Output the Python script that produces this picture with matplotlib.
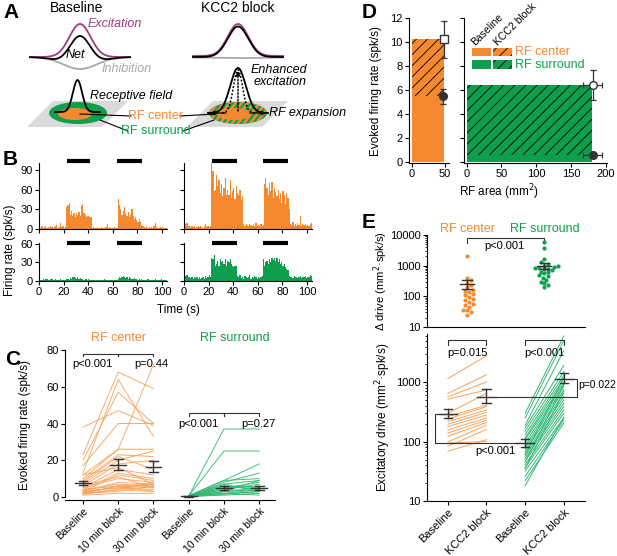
import numpy as np
import matplotlib
matplotlib.use('Agg')
import matplotlib.pyplot as plt
from matplotlib.patches import Ellipse, Polygon, Rectangle

plt.rcParams['font.family'] = ['Liberation Sans', 'DejaVu Sans']
plt.rcParams['font.size'] = 8
plt.rcParams['hatch.linewidth'] = 0.6
plt.rcParams['axes.linewidth'] = 0.8

ORANGE = '#F5892F'
GREEN = '#0E9F4E'
ORANGE_LINE = '#F7A25B'
GREEN_LINE = '#2FB872'
PURPLE = '#A33A7E'
GRAY = '#A8A8A8'
ERR = '#333333'

# ====================== DATA ======================
# B: firing rate histograms, 1 s bins (spk/s)
t_bins = np.arange(105)
center_base_hist = ([3, 2, 4, 2, 3, 5, 2, 3, 2, 4, 3, 2, 3, 4, 6, 2, 3, 9, 3, 4, 2, 3]
                    + [34, 37, 40, 22, 28, 20, 25, 18, 24, 22, 26, 20, 35, 38, 25, 22, 18, 20, 20, 19, 19]
                    + [2, 3, 2, 1, 3, 2, 2, 3, 1, 2, 2, 3, 8, 2, 3, 2, 1, 2, 3, 2, 2]
                    + [45, 36, 30, 22, 28, 33, 25, 20, 26, 18, 22, 30, 20, 15, 18, 13, 10, 16, 11, 6, 4]
                    + [3, 2, 4, 2, 3, 2, 3, 2, 5, 9, 3, 2, 2, 3, 2, 3, 2, 2, 1, 2])
center_kcc_hist = ([12, 7, 9, 5, 4, 3, 5, 3, 4, 2, 3, 5, 3, 4, 3, 2, 4, 8, 3, 4, 3, 4]
                   + [100, 88, 58, 60, 82, 65, 75, 55, 68, 50, 62, 78, 52, 60, 52, 74, 48, 58, 62, 45, 65, 55, 52, 60, 44, 50]
                   + [8, 5, 7, 6, 4, 8, 6, 5, 7, 4, 9, 5, 6, 4, 7, 5, 6]
                   + [68, 78, 62, 52, 70, 58, 72, 48, 62, 56, 50, 60, 45, 55, 40, 58, 52, 38, 55, 48, 30]
                   + [8, 6, 10, 5, 7, 4, 9, 6, 20, 5, 8, 6, 7, 4, 6, 5, 8, 9, 7])
surr_base_hist = ([1, 2, 1, 3, 2, 4, 3, 1, 2, 4, 3, 2, 1, 3, 2, 1, 2, 3, 1, 2, 1, 2]
                  + [3, 4, 2, 5, 4, 6, 7, 5, 4, 6, 3, 5, 4, 3, 2, 4, 3, 2, 3, 2, 1]
                  + [1, 2, 1, 1, 2, 1, 2, 1, 1, 2, 3, 1, 2, 1, 2, 1, 2, 1, 1, 2, 1]
                  + [4, 6, 5, 7, 8, 6, 5, 7, 4, 6, 5, 3, 4, 5, 3, 4, 2, 3, 2, 3, 2]
                  + [1, 2, 1, 3, 2, 1, 2, 1, 2, 3, 1, 2, 1, 2, 4, 1, 2, 1, 2, 1])
surr_kcc_hist = ([10, 8, 9, 7, 6, 5, 7, 4, 6, 5, 7, 4, 6, 3, 5, 7, 4, 8, 5, 6, 9, 7]
                 + [38, 35, 42, 25, 28, 32, 24, 35, 30, 33, 28, 35, 25, 32, 30, 35, 28, 25, 22, 25, 24]
                 + [8, 6, 10, 5, 7, 4, 8, 6, 5, 7, 9, 4, 6, 5, 8, 6, 4, 7, 5, 6, 8]
                 + [35, 25, 30, 33, 28, 36, 30, 38, 34, 37, 32, 38, 30, 35, 28, 30, 25, 28, 22, 20, 18]
                 + [8, 6, 7, 5, 8, 6, 7, 5, 6, 8, 5, 7, 6, 8, 5, 7, 6, 10, 8, 7])
stim_left = [(22.5, 41.5), (63, 83.5)]
stim_right = [(22.5, 42.8), (64, 84.6)]

# C: evoked firing rate per cell (baseline, 10 min, 30 min)
c_conditions = ['Baseline', '10 min block', '30 min block']
c_center = [[38, 47, 39], [23, 68, 59], [20, 57, 40], [13, 64, 33], [17, 40, 40],
            [12, 26, 72], [10, 26, 26], [9, 23, 22], [8, 22, 15], [7, 20, 25],
            [6, 18, 20], [12, 16, 7], [5, 15, 12], [4, 13, 10], [3, 12, 9],
            [5, 10, 8], [3, 8, 7], [4, 7, 6], [2, 6, 5], [2, 6, 7], [3, 5, 4],
            [1.5, 4, 3], [2, 3, 6], [1, 2, 2], [4, 6, 3], [3, 5, 6], [6, 11, 5], [2, 4, 8]]
c_surround = [[0.5, 37, 37], [0.5, 25, 25], [0.8, 9, 18], [0.3, 8, 13], [0.5, 9, 10],
              [0.5, 7, 9], [0.2, 6, 4], [0.5, 5, 8], [0.3, 5, 6], [0.4, 4, 7],
              [0.6, 4, 3], [0.2, 3, 5], [0.3, 3, 2], [0.1, 2, 4], [0.4, 2, 1],
              [0.2, 1.5, 3], [0.3, 1, 2], [0.5, 6, 5], [0.6, 7, 3], [0.2, 3, 9]]
c_center_mean = [7.5, 17.5, 16.5]
c_center_lo = [6.4, 14.5, 13.5]
c_center_hi = [8.8, 20.8, 19.8]
c_surr_mean = [0.3, 4.8, 5.0]
c_surr_lo = [0.1, 3.8, 4.0]
c_surr_hi = [0.5, 5.9, 6.2]

# D: RF area vs evoked firing rate
d_center_area = 48
d_center_rate_base = 5.5
d_center_rate_kcc = 10.25
d_surr_area = 180
d_surr_rate_base = 0.6
d_surr_rate_kcc = 6.45

# E: delta drive (mm2 spk/s)
e_center_delta = [2100, 390, 330, 280, 240, 200, 165, 150, 135, 120, 112, 95, 80, 77,
                  63, 56, 53, 45, 37, 35, 30, 25]
e_surr_delta = [6000, 3700, 1650, 1270, 1100, 1000, 950, 900, 850, 830, 800, 750, 700,
                640, 600, 560, 500, 450, 400, 350, 300, 270, 230, 200]
e_delta_mean = [250, 1000]
e_delta_lo = [175, 800]
e_delta_hi = [350, 1220]

# E: excitatory drive per cell (baseline, KCC2 block)
e_conditions = ['Baseline', 'KCC2 block', 'Baseline', 'KCC2 block']
e_center_base = [1150, 650, 570, 520, 300, 265, 240, 218, 197, 180, 158, 140, 123, 99, 84, 69, 95]
e_center_kcc = [2800, 1340, 1010, 740, 650, 410, 390, 340, 312, 280, 250, 230, 210, 190, 160, 108, 100]
e_surr_base = [300, 250, 190, 170, 150, 130, 115, 108, 95, 84, 76, 69, 62, 57, 52, 47, 41,
               37, 32, 26, 22, 18, 60, 45, 35]
e_surr_kcc = [6000, 5000, 3400, 1900, 1500, 1300, 1150, 1000, 920, 840, 740, 650, 570, 500,
              440, 390, 340, 300, 250, 230, 205, 260, 1200, 900, 700]
e_drive_mean = [290, 570, 95, 1150]
e_drive_lo = [250, 440, 80, 960]
e_drive_hi = [350, 760, 112, 1450]

# ====================== HELPERS ======================
W, H = 617, 556
fig = plt.figure(figsize=(W / 100, H / 100), dpi=100)


def px_ax(x0, y0, x1, y1):
    return fig.add_axes([x0 / W, 1 - y1 / H, (x1 - x0) / W, (y1 - y0) / H])


def style(ax):
    for s in ['top', 'right']:
        ax.spines[s].set_visible(False)
    ax.tick_params(direction='out', length=3, width=0.8, pad=1.5, labelsize=8)


def ylabel_at(ax, text, px_x, px_left, px_width, size=8.5):
    ax.set_ylabel(text, fontsize=size)
    ax.yaxis.set_label_coords((px_x - px_left) / px_width, 0.5)


def mean_sem(ax, x, m, lo, hi, wm, wc, lw=1.0):
    ax.plot([x - wm / 2, x + wm / 2], [m, m], color=ERR, lw=lw, zorder=6)
    ax.plot([x, x], [lo, hi], color=ERR, lw=lw, zorder=6)
    for v in (lo, hi):
        ax.plot([x - wc / 2, x + wc / 2], [v, v], color=ERR, lw=lw, zorder=6)


def bracket(ax, x0, x1, y, y_end):
    ax.plot([x0, x0, x1, x1], [y_end, y, y, y_end], color=ERR, lw=0.8, clip_on=False)


def swarm_x(vals, center, dx=0.1, dy=0.12):
    logv = np.log10(vals)
    xs = np.zeros(len(vals))
    placed = []
    offsets = [0] + [s * j for j in range(1, 8) for s in (1, -1)]
    for i in np.argsort(logv):
        y = logv[i]
        for c in offsets:
            x = c * dx * 0.5
            if all(((x - a) / dx) ** 2 + ((y - b) / dy) ** 2 >= 1 for a, b in placed):
                break
        placed.append((x, y))
        xs[i] = center + x
    return xs


# ====================== B: histograms ======================
def hist_panel(box, vals, color, ymax, yticks, stims, stim_y, xlabels, ylabels):
    ax = px_ax(*box)
    style(ax)
    ax.bar(t_bins, vals, width=1.0, align='edge', color=color, linewidth=0)
    ax.set_xlim(0, 104)
    ax.set_ylim(0, ymax)
    ax.set_xticks(range(0, 101, 20))
    ax.set_yticks(yticks)
    if not xlabels:
        ax.set_xticklabels([])
    if not ylabels:
        ax.set_yticklabels([])
    for a, b in stims:
        ax.plot([a, b], [stim_y, stim_y], color='black', lw=3, solid_capstyle='butt', clip_on=False)
    return ax


hist_panel((39, 163.4, 167, 229), center_base_hist, ORANGE, 100, [0, 30, 60, 90], stim_left, 104, False, True)
hist_panel((184, 163.4, 312, 229), center_kcc_hist, ORANGE, 100, [0, 30, 60, 90], stim_right, 104, False, False)
hist_panel((39, 242.7, 167, 281), surr_base_hist, GREEN, 62, [0, 30, 60], stim_left, 61, True, True)
hist_panel((184, 242.7, 312, 281), surr_kcc_hist, GREEN, 62, [0, 30, 60], stim_right, 61, True, False)

# ====================== C: evoked firing ======================
axc = px_ax(65, 350, 275, 500)
style(axc)
xc_center = np.array([0, 1, 2])
xc_surr = np.array([3, 4, 5])
for row in c_center:
    axc.plot(xc_center, row, color=ORANGE_LINE, lw=0.7, alpha=0.9)
for row in c_surround:
    axc.plot(xc_surr, row, color=GREEN_LINE, lw=0.7, alpha=0.9)
for i in range(3):
    mean_sem(axc, xc_center[i], c_center_mean[i], c_center_lo[i], c_center_hi[i], 0.45, 0.25)
    mean_sem(axc, xc_surr[i], c_surr_mean[i], c_surr_lo[i], c_surr_hi[i], 0.45, 0.25)
axc.set_xlim(-0.51, 5.45)
axc.set_ylim(-1.63, 80)
axc.set_yticks([0, 20, 40, 60, 80])
axc.set_xticks(list(xc_center) + list(xc_surr))
axc.set_xticklabels(c_conditions * 2, rotation=45, ha='right', rotation_mode='anchor', fontsize=7.5)
axc.spines['left'].set_bounds(0, 80)
ylabel_at(axc, 'Evoked firing rate (spk/s)', 31, 65, 210)
bracket(axc, 0, 1, 78, 76.5)
bracket(axc, 1, 2, 78, 76.5)
bracket(axc, 3, 4, 45.5, 44)
bracket(axc, 4, 5, 45.5, 44)
axc.text(0.27, 72.5, 'p<0.001', ha='center', va='center', fontsize=8)
axc.text(1.95, 72.5, 'p=0.44', ha='center', va='center', fontsize=8)
axc.text(3.27, 40, 'p<0.001', ha='center', va='center', fontsize=8)
axc.text(4.97, 40, 'p=0.27', ha='center', va='center', fontsize=8)
axc.text(1.0, 86.5, 'RF center', color=ORANGE, ha='center', va='center', fontsize=9, clip_on=False)
axc.text(4.3, 86.5, 'RF surround', color=GREEN, ha='center', va='center', fontsize=9, clip_on=False)

# ====================== D: RF area ======================
axd1 = px_ax(409, 18.3, 449, 163)
axd2 = px_ax(464, 18.3, 607, 163)
for ax in (axd1, axd2):
    style(ax)
    ax.set_ylim(-0.1, 12)
    ax.set_yticks(range(0, 13, 2))
axd1.set_xlim(-4.5, 56)
axd1.set_xticks([0, 50])
axd2.set_xlim(-3.8, 201.7)
axd2.set_xticks([0, 50, 100, 150, 200])
axd2.set_yticklabels([])
ylabel_at(axd1, 'Evoked firing rate (spk/s)', 382, 409, 40)

axd1.add_patch(Rectangle((0, 0), d_center_area, d_center_rate_kcc, facecolor=ORANGE, edgecolor='none'))
axd1.add_patch(Rectangle((0, d_center_rate_base), d_center_area, d_center_rate_kcc - d_center_rate_base,
                         facecolor='none', edgecolor='black', hatch='///', linewidth=0))
axd2.add_patch(Rectangle((0, 0), d_surr_area, d_surr_rate_kcc, facecolor=GREEN, edgecolor='none'))
axd2.add_patch(Rectangle((0, d_surr_rate_base), d_surr_area, d_surr_rate_kcc - d_surr_rate_base,
                         facecolor='none', edgecolor='black', hatch='///', linewidth=0))
ekw = dict(ecolor=ERR, elinewidth=0.9, capsize=2.5, capthick=0.9, mec=ERR, ms=5.5, clip_on=False, zorder=6)
axd1.errorbar([d_center_area], [d_center_rate_kcc], yerr=[[1.55], [1.55]], fmt='s', mfc='white', **ekw)
axd1.errorbar([d_center_area - 1], [d_center_rate_base], yerr=[[0.65], [0.6]], xerr=[[2], [2]],
              fmt='o', mfc=ERR, **ekw)
axd2.errorbar([d_surr_area + 1], [d_surr_rate_kcc], yerr=[[1.25], [1.25]], xerr=[[14], [14]],
              fmt='o', mfc='white', **ekw)
axd2.errorbar([d_surr_area + 1], [d_surr_rate_base], xerr=[[14], [14]], fmt='o', mfc=ERR, **ekw)

# ====================== E: drive ======================
axe1 = px_ax(427, 235, 585, 327)
axe2 = px_ax(427, 334, 585, 501)
for ax in (axe1, axe2):
    style(ax)
    ax.set_yscale('log')
    ax.set_xlim(-0.54, 3.55)
    ax.tick_params(which='minor', length=1.5, width=0.6)
axe1.set_ylim(10, 10000)
axe1.set_xticks([])
axe1.set_yticks([10, 100, 1000, 10000])
axe1.set_yticklabels(['10', '100', '1000', '10000'])
ylabel_at(axe1, 'Δ drive (mm$^2$·spk/s)', 390, 427, 158, size=8)
axe1.scatter(swarm_x(e_center_delta, 0.5), e_center_delta, s=9, color=ORANGE, linewidths=0, zorder=4)
axe1.scatter(swarm_x(e_surr_delta, 2.5), e_surr_delta, s=9, color=GREEN, linewidths=0, zorder=4)
for i, xm in enumerate([0.5, 2.5]):
    mean_sem(axe1, xm, e_delta_mean[i], e_delta_lo[i], e_delta_hi[i], 0.36, 0.25)
bracket(axe1, 0.5, 2.5, 7800, 5400)
axe1.text(1.47, 4300, 'p<0.001', ha='center', va='center', fontsize=8)
axe1.text(0.5, 16000, 'RF center', color=ORANGE, ha='center', va='center', fontsize=9, clip_on=False)
axe1.text(2.5, 16000, 'RF surround', color=GREEN, ha='center', va='center', fontsize=9, clip_on=False)

for b, k in zip(e_center_base, e_center_kcc):
    axe2.plot([0, 1], [b, k], color=ORANGE_LINE, lw=0.7)
for b, k in zip(e_surr_base, e_surr_kcc):
    axe2.plot([2, 3], [b, k], color=GREEN_LINE, lw=0.7)
for i in range(4):
    mean_sem(axe2, i, e_drive_mean[i], e_drive_lo[i], e_drive_hi[i], 0.47, 0.22)
axe2.set_ylim(10, 6500)
axe2.set_yticks([10, 100, 1000])
axe2.set_yticklabels(['10', '100', '1000'])
axe2.set_xticks(range(4))
axe2.set_xticklabels(e_conditions, rotation=45, ha='right', rotation_mode='anchor')
ylabel_at(axe2, 'Excitatory drive (mm$^2$·spk/s)', 393, 427, 158)
bracket(axe2, 0, 1, 5080, 4300)
bracket(axe2, 2, 3, 5080, 4300)
axe2.text(0.5, 3070, 'p=0.015', ha='center', va='center', fontsize=8)
axe2.text(2.5, 3070, 'p<0.001', ha='center', va='center', fontsize=8)
axe2.plot([1.27, 3.33, 3.33, 3.18], [570, 570, 1150, 1150], color=ERR, lw=0.8, clip_on=False)
axe2.text(3.37, 890, 'p=0.022', ha='left', va='center', fontsize=7.5)
axe2.plot([-0.08, -0.34, -0.34, 1.86], [290, 290, 96, 96], color=ERR, lw=0.8, clip_on=False)
axe2.text(1.24, 69, 'p<0.001', ha='center', va='center', fontsize=8)

# ====================== overlay: panel A, labels ======================
ov = fig.add_axes([0, 0, 1, 1])
ov.set_xlim(0, W)
ov.set_ylim(H, 0)
ov.axis('off')

for letter, (lx, ly) in zip('ABCDE', [(3, 3), (3, 150), (5, 350), (362, 3), (362, 213)]):
    ov.text(lx, ly, letter, fontsize=15, fontweight='bold', ha='left', va='top')

ov.text(10, 250, 'Firing rate (spk/s)', rotation=90, ha='center', va='center', fontsize=8.5)
ov.text(178, 310, 'Time (s)', ha='center', va='center', fontsize=8.5)
ov.text(499, 192, 'RF area (mm$^2$)', ha='center', va='center', fontsize=8.5)

# D legend
ov.add_patch(Rectangle((472, 48), 19, 8, facecolor=ORANGE, edgecolor='none'))
ov.add_patch(Rectangle((493, 48), 19, 8, facecolor=ORANGE, edgecolor='black', hatch='///', linewidth=0))
ov.add_patch(Rectangle((472, 60), 19, 8.5, facecolor=GREEN, edgecolor='none'))
ov.add_patch(Rectangle((493, 60), 19, 8.5, facecolor=GREEN, edgecolor='black', hatch='///', linewidth=0))
ov.text(515, 52, 'RF center', color=ORANGE, ha='left', va='center', fontsize=9)
ov.text(515, 64.5, 'RF surround', color=GREEN, ha='left', va='center', fontsize=9)
ov.text(477, 47, 'Baseline', rotation=45, ha='left', va='bottom', rotation_mode='anchor', fontsize=7.5)
ov.text(499, 47, 'KCC2 block', rotation=45, ha='left', va='bottom', rotation_mode='anchor', fontsize=7.5)

# Panel A schematic (pixel coordinates)
ov.text(77, 8, 'Baseline', ha='center', va='center', fontsize=10)
ov.text(238, 8, 'KCC2 block', ha='center', va='center', fontsize=10)


def bump(x, mu, sig):
    return np.exp(-((x - mu) / sig) ** 2)


xa = np.linspace(30, 130, 300)
base_y = 57
exc_l = 33 * bump(xa, 80, 15)
inh_l = 12 * bump(xa, 80, 24)
ov.plot(xa, base_y - exc_l, color=PURPLE, lw=1.3)
ov.plot(xa, base_y + inh_l, color=GRAY, lw=1.3)
ov.plot(xa, base_y - (exc_l - inh_l), color='black', lw=1.3)
ov.text(88, 24, 'Excitation', color=PURPLE, style='italic', ha='left', va='center', fontsize=9)
ov.text(75, 55, 'Net', color='black', style='italic', ha='center', va='center', fontsize=9)
ov.text(102, 69, 'Inhibition', color=GRAY, style='italic', ha='left', va='center', fontsize=9)

xb = np.linspace(193, 283, 300)
ov.plot(xb, 56 - 32 * bump(xb, 238, 14.5), color=PURPLE, lw=1.3)
ov.plot(xb, 57.5 + 0.6 * bump(xb, 238, 24), color=GRAY, lw=1.3)
ov.plot(xb, 57 - 30.5 * bump(xb, 238, 14.5), color='black', lw=1.3)

# receptive field cartoons
for cx in (78, 238):
    ov.add_patch(Polygon([(cx - 51, 127), (cx - 25, 101), (cx + 50, 101), (cx + 24, 127)],
                         closed=True, facecolor='#DADADA', edgecolor='none'))
    ov.add_patch(Ellipse((cx, 113), 58, 22, facecolor=GREEN, edgecolor='none'))
ring = Ellipse((238, 113), 58, 22, facecolor='none', edgecolor='none')
ov.add_patch(ring)
for k in range(-60, 70, 6):
    ln, = ov.plot([200 + k, 220 + k], [126, 100], color=ORANGE, lw=1.8, solid_capstyle='butt')
    ln.set_clip_path(ring)
for cx in (75, 234):
    ov.add_patch(Ellipse((cx, 114), 34, 12, facecolor=ORANGE, edgecolor='none'))

xr = np.linspace(55, 100, 200)
ov.plot(xr, 112 - 32 * bump(xr, 77.5, 6.5), color='black', lw=1.3)
ov.text(90, 96, 'Receptive field', style='italic', ha='left', va='center', fontsize=9)

xw = np.linspace(208, 268, 200)
ov.plot(xw, 113 - 45 * bump(xw, 238, 11), color='black', lw=1.3)
xn = np.linspace(222, 254, 200)
ov.plot(xn, 113 - 43 * bump(xn, 238, 6.5), color='black', lw=1.1, ls=(0, (1.2, 1.2)))
ov.annotate('', xy=(238, 71), xytext=(238, 111),
            arrowprops=dict(arrowstyle='-|>', color='black', lw=1.0, ls=(0, (1.2, 1.2)),
                            mutation_scale=6, shrinkA=0, shrinkB=0))
for xa0, xa1 in ((226, 210), (250, 266)):
    ov.annotate('', xy=(xa1, 113), xytext=(xa0, 113),
                arrowprops=dict(arrowstyle='-|>', color='black', lw=0.9,
                                mutation_scale=6, shrinkA=0, shrinkB=0))
ov.text(251, 70, 'Enhanced', style='italic', ha='left', va='center', fontsize=9)
ov.text(254, 82, 'excitation', style='italic', ha='left', va='center', fontsize=9)
ov.text(269, 113, 'RF expansion', style='italic', ha='left', va='center', fontsize=9)

# connectors to labels
ov.plot([80, 131], [114, 116], color='black', lw=0.8)
ov.plot([180, 216], [116, 114], color='black', lw=0.8)
ov.plot([100, 128], [120, 131], color='black', lw=0.8)
ov.plot([183, 214], [131, 120], color='black', lw=0.8)
ov.text(155.5, 116, 'RF center', color=ORANGE, ha='center', va='center', fontsize=9)
ov.text(155.5, 131, 'RF surround', color=GREEN, ha='center', va='center', fontsize=9)

fig.savefig('out.png', dpi=100)
